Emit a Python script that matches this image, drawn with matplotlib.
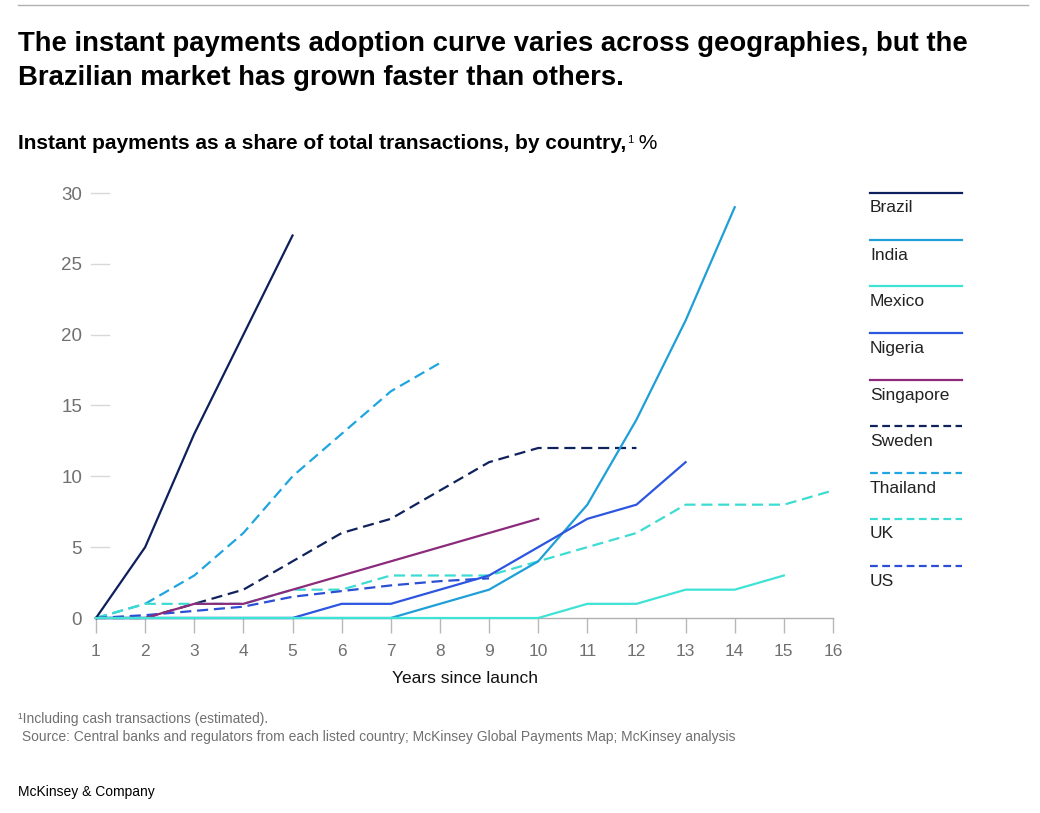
import matplotlib.pyplot as plt
from matplotlib.lines import Line2D

plt.rcParams['font.family'] = ['Liberation Sans', 'DejaVu Sans']

years = list(range(1, 17))

countries = ['Brazil', 'India', 'Mexico', 'Nigeria', 'Singapore',
             'Sweden', 'Thailand', 'UK', 'US']

brazil = [0, 5, 13, 20, 27]
india = [0, 0, 0, 0, 0, 0, 0, 1, 2, 4, 8, 14, 21, 29]
mexico = [0, 0, 0, 0, 0, 0, 0, 0, 0, 0, 1, 1, 2, 2, 3]
nigeria = [0, 0, 0, 0, 0, 1, 1, 2, 3, 5, 7, 8, 11]
singapore = [0, 0, 1, 1, 2, 3, 4, 5, 6, 7]
sweden = [0, 0, 1, 2, 4, 6, 7, 9, 11, 12, 12, 12]
thailand = [0, 1, 3, 6, 10, 13, 16, 18]
uk = [0, 1, 1, 1, 2, 2, 3, 3, 3, 4, 5, 6, 8, 8, 8, 9]
us = [0, 0.2, 0.5, 0.8, 1.5, 1.9, 2.3, 2.6, 2.8]

y_ticks = [0, 5, 10, 15, 20, 25, 30]

series = [brazil, india, mexico, nigeria, singapore, sweden, thailand, uk, us]
colors = ['#0e1f5e', '#1f9fd8', '#3fe3d4', '#2c55e0', '#8c2a7c',
          '#10225c', '#1fa5df', '#3ddcd2', '#2a4fd4']
dashed = [False, False, False, False, False, True, True, True, True]
zorders = [5, 4, 6, 4, 4, 3, 3, 3, 3]

fig = plt.figure(figsize=(10.4, 8.13), dpi=100)
ax = fig.add_axes([96 / 1040, 1 - 618 / 813, (833 - 96) / 1040, (618 - 193) / 813])

for name, vals, col, ds, z in zip(countries, series, colors, dashed, zorders):
    kw = dict(color=col, lw=1.6, clip_on=False, zorder=z, solid_joinstyle='miter')
    if ds:
        kw['dashes'] = (5, 2.6)
    ax.plot(years[:len(vals)], vals, **kw)

ax.set_xlim(1, 16)
ax.set_ylim(0, 30)
ax.set_xticks(years)
ax.set_yticks(y_ticks)
for s in ['top', 'right', 'left']:
    ax.spines[s].set_visible(False)
ax.spines['bottom'].set_color('#b0b0b0')
ax.spines['bottom'].set_linewidth(1.0)
ax.tick_params(axis='x', direction='out', length=11, width=1, color='#b8b8b8',
               labelsize=12.5, labelcolor='#707070', pad=8)
ax.tick_params(axis='y', length=0, labelsize=13.5, labelcolor='#707070', pad=10)
ax.set_xlabel('Years since launch', fontsize=12.5, color='#111111', labelpad=8)

# short gray dashes next to the y labels
ytr = ax.get_yaxis_transform()
for t in y_ticks[1:]:
    ax.add_line(Line2D([-5 / 737, 13 / 737], [t, t], transform=ytr, color='#d8d8d8',
                       lw=1, clip_on=False, zorder=1))

# Titles
fig.text(18 / 1040, 1 - 44 / 813, 'The instant payments adoption curve varies across geographies, but the',
         fontsize=19.8, fontweight='bold', va='center', ha='left', color='#000000')
fig.text(18 / 1040, 1 - 78 / 813, 'Brazilian market has grown faster than others.',
         fontsize=19.8, fontweight='bold', va='center', ha='left', color='#000000')
sub = fig.text(18 / 1040, 1 - 143 / 813, 'Instant payments as a share of total transactions, by country,',
               fontsize=15, fontweight='bold', va='center', ha='left', color='#000000')
ax.annotate('1', xy=(1, 1), xycoords=sub, xytext=(0.5, -1), textcoords='offset points',
            fontsize=8, va='top', ha='left', color='#000000')
ax.annotate(' %', xy=(1, 0), xycoords=sub, xytext=(5, 0), textcoords='offset points',
            fontsize=15, va='bottom', ha='left', color='#000000')

# Legend
legend_y = [193, 240, 286, 333, 380, 426, 473, 519, 566]
for name, col, ds, ly in zip(countries, colors, dashed, legend_y):
    ln = Line2D([870 / 1040, 962 / 1040], [1 - ly / 813, 1 - ly / 813], transform=fig.transFigure,
                color=col, lw=1.6)
    if ds:
        ln.set_dashes((3.5, 2))
    fig.add_artist(ln)
    fig.text(870 / 1040, 1 - (ly + 15) / 813, name, fontsize=12.5, va='center', ha='left',
             color='#222222')

# Footnotes
fig.text(18 / 1040, 1 - 719 / 813, '¹Including cash transactions (estimated).',
         fontsize=10, color='#707070', va='center', ha='left')
fig.text(18 / 1040, 1 - 737 / 813,
         ' Source: Central banks and regulators from each listed country; McKinsey Global Payments Map; McKinsey analysis',
         fontsize=10, color='#707070', va='center', ha='left')
fig.text(18 / 1040, 1 - 792 / 813, 'McKinsey & Company', fontsize=10, color='#000000',
         va='center', ha='left')

fig.add_artist(Line2D([18 / 1040, 1028 / 1040], [1 - 5 / 813, 1 - 5 / 813],
                      transform=fig.transFigure, color='#b0b0b0', lw=1.0))

fig.savefig('out.png', dpi=100)
